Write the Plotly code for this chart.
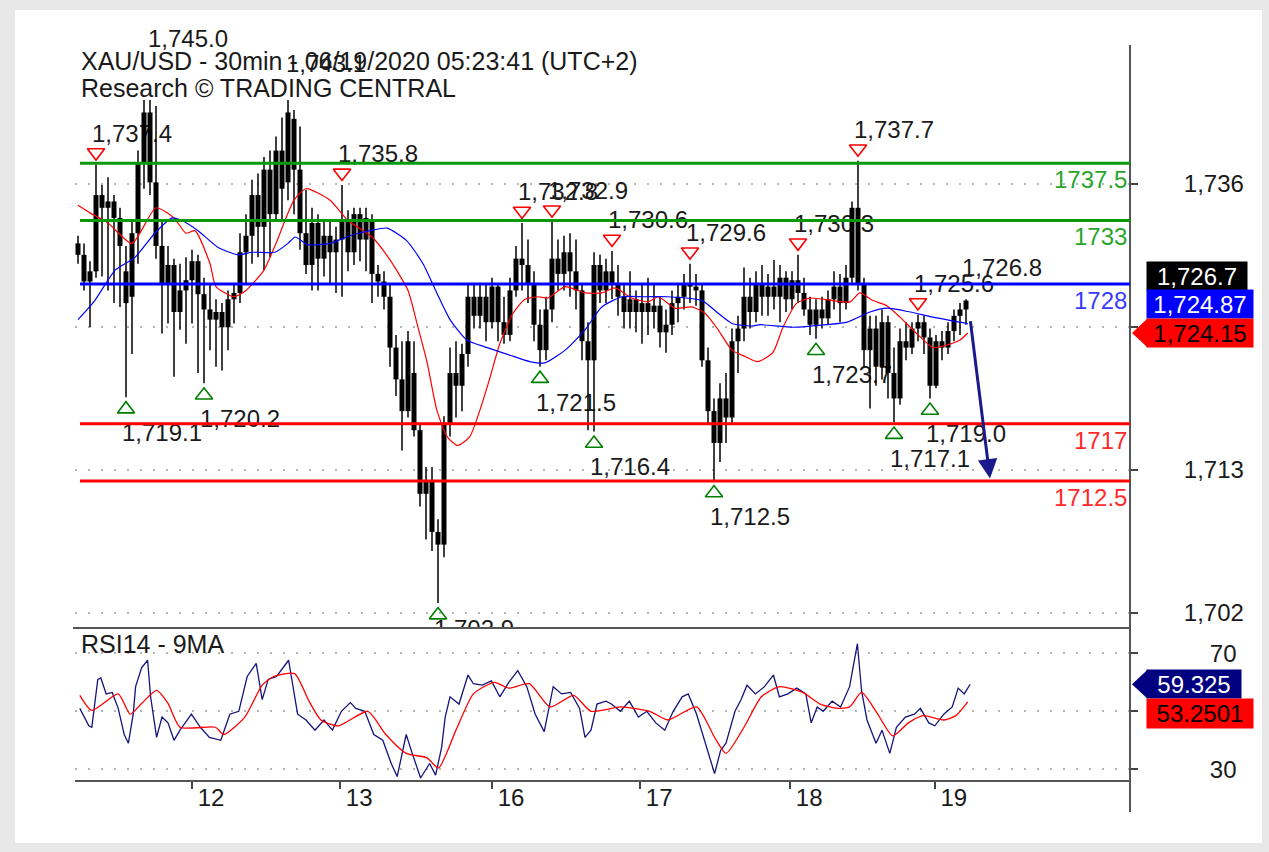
import plotly.graph_objects as go

# ------------------------------------------------------------------ data
day_labels = ["12", "13", "16", "17", "18", "19"]
day_start_bar = [19, 43.7, 69, 93.7, 118.7, 142.8]

bar_open = [1731.2, 1730.3, 1728.2, 1729.0, 1735.0, 1734.0, 1734.5, 1733.2, 1729.0, 1727.0,
            1732.0, 1737.5, 1741.5, 1736.0, 1731.0, 1728.0, 1729.5, 1725.8, 1727.5, 1728.3,
            1729.8, 1727.2, 1726.0, 1725.2, 1725.8, 1724.6, 1726.8, 1727.3, 1730.5, 1731.8,
            1735.0, 1732.5, 1737.0, 1733.5, 1738.5, 1736.0, 1741.0, 1737.0, 1732.0, 1729.5,
            1732.8, 1730.0, 1731.8, 1730.5, 1731.5, 1733.0, 1730.5, 1733.5, 1731.5, 1733.0,
            1728.8, 1728.2, 1727.0, 1723.0, 1720.5, 1718.0, 1721.0, 1716.5, 1711.5, 1712.5,
            1708.5, 1707.5, 1717.0, 1721.0, 1720.0, 1722.5, 1727.0, 1725.5, 1727.0, 1725.0,
            1727.8, 1725.0, 1724.0, 1727.5, 1730.0, 1729.5, 1728.0, 1724.8, 1722.8, 1726.0,
            1730.0, 1728.8, 1730.5, 1729.0, 1727.5, 1723.5, 1722.0, 1729.5, 1727.5, 1729.0,
            1728.0, 1727.0, 1725.8, 1726.8, 1725.8, 1726.5, 1725.8, 1726.3, 1724.2, 1724.8,
            1726.5, 1727.0, 1728.0, 1727.8, 1727.5, 1722.0, 1718.0, 1715.5, 1719.0, 1717.5,
            1723.5, 1724.5, 1727.0, 1725.8, 1728.0, 1727.0, 1727.8, 1727.0, 1728.5, 1726.8,
            1728.3, 1727.3, 1726.0, 1724.8, 1726.0, 1725.3, 1726.8, 1727.8, 1726.5, 1728.5,
            1734.0, 1728.0, 1722.8, 1724.5, 1721.5, 1725.0, 1721.0, 1719.0, 1723.5, 1723.0,
            1724.5, 1725.0, 1723.8, 1720.0, 1723.5, 1723.0, 1724.3, 1725.5, 1726.0]
bar_high = [1731.8, 1731.2, 1729.8, 1737.4, 1735.8, 1736.4, 1735.0, 1734.0, 1731.0, 1733.0,
            1738.5, 1743.5, 1745.0, 1742.0, 1733.0, 1731.0, 1730.0, 1729.6, 1730.1, 1730.7,
            1730.3, 1728.5, 1728.0, 1726.8, 1726.5, 1727.5, 1728.0, 1732.0, 1733.5, 1736.2,
            1736.7, 1738.0, 1738.5, 1739.6, 1741.1, 1743.1, 1741.7, 1740.4, 1735.4, 1734.0,
            1733.5, 1733.0, 1733.0, 1732.5, 1735.8, 1733.8, 1734.0, 1734.0, 1734.0, 1733.5,
            1729.5, 1729.0, 1728.0, 1724.0, 1723.5, 1724.3, 1723.5, 1717.0, 1713.6, 1713.6,
            1709.5, 1717.6, 1723.0, 1723.5, 1723.3, 1728.0, 1728.0, 1728.0, 1728.0, 1728.5,
            1728.0, 1727.0, 1728.5, 1731.0, 1732.8, 1731.5, 1729.0, 1726.0, 1727.0, 1732.9,
            1731.5, 1731.8, 1732.0, 1731.5, 1728.0, 1725.0, 1730.5, 1730.3, 1730.0, 1730.6,
            1729.5, 1728.0, 1729.0, 1727.5, 1728.0, 1728.5, 1728.0, 1727.0, 1726.0, 1727.5,
            1728.0, 1728.8, 1729.6, 1728.8, 1728.0, 1723.0, 1719.0, 1720.2, 1721.0, 1724.5,
            1725.5, 1729.3, 1728.5, 1729.0, 1729.5, 1728.8, 1729.9, 1729.5, 1729.0, 1729.0,
            1730.3, 1728.5, 1727.0, 1726.8, 1727.0, 1727.5, 1729.0, 1728.8, 1729.5, 1734.5,
            1737.7, 1728.5, 1725.5, 1725.5, 1726.0, 1725.5, 1723.0, 1724.5, 1725.0, 1725.0,
            1725.6, 1725.5, 1724.5, 1724.0, 1724.3, 1725.0, 1726.0, 1726.5, 1726.8]
bar_low = [1729.6, 1727.5, 1724.6, 1728.5, 1728.6, 1727.5, 1726.5, 1726.2, 1719.1, 1722.5,
           1729.6, 1735.5, 1735.0, 1730.0, 1724.1, 1724.9, 1720.7, 1724.4, 1723.3, 1724.9,
           1721.0, 1720.2, 1722.8, 1721.5, 1721.2, 1722.8, 1724.9, 1726.5, 1728.0, 1729.6,
           1730.1, 1729.1, 1730.1, 1733.0, 1733.0, 1734.6, 1733.5, 1730.7, 1728.8, 1727.5,
           1727.5, 1728.6, 1728.0, 1727.3, 1727.0, 1729.0, 1729.5, 1729.8, 1729.0, 1726.5,
           1727.0, 1726.0, 1721.5, 1719.2, 1714.9, 1717.5, 1716.0, 1710.5, 1707.9, 1707.0,
           1702.9, 1706.5, 1716.0, 1717.5, 1718.0, 1721.5, 1724.5, 1724.5, 1723.5, 1724.5,
           1723.5, 1723.3, 1723.5, 1727.0, 1727.5, 1726.5, 1723.5, 1721.5, 1722.0, 1725.0,
           1727.5, 1727.5, 1727.0, 1726.0, 1722.0, 1716.5, 1716.4, 1726.5, 1726.5, 1726.8,
           1725.5, 1724.5, 1724.5, 1724.2, 1723.3, 1724.0, 1724.5, 1723.0, 1722.6, 1724.0,
           1725.0, 1726.0, 1726.5, 1726.3, 1721.5, 1717.0, 1712.5, 1714.0, 1715.5, 1717.0,
           1721.0, 1723.5, 1724.5, 1725.0, 1725.5, 1725.5, 1726.0, 1725.0, 1725.8, 1726.0,
           1726.5, 1725.5, 1724.0, 1723.7, 1724.5, 1724.8, 1726.0, 1725.0, 1726.0, 1728.0,
           1727.5, 1721.5, 1718.2, 1720.0, 1720.5, 1719.0, 1717.1, 1718.5, 1722.0, 1722.5,
           1723.5, 1722.5, 1719.0, 1719.8, 1722.0, 1722.5, 1723.5, 1724.0, 1724.8]
bar_close = [1730.3, 1728.2, 1729.0, 1735.0, 1734.0, 1734.5, 1733.2, 1731.0, 1726.5, 1732.0,
             1737.5, 1741.5, 1736.0, 1731.0, 1728.0, 1729.5, 1725.8, 1727.5, 1728.3, 1729.8,
             1727.2, 1726.0, 1725.2, 1725.8, 1724.6, 1726.8, 1727.3, 1730.5, 1731.8, 1735.0,
             1732.5, 1737.0, 1733.5, 1738.5, 1735.5, 1741.5, 1737.0, 1732.0, 1729.5, 1732.8,
             1730.0, 1731.8, 1730.5, 1731.5, 1733.0, 1730.5, 1733.5, 1731.5, 1733.2, 1728.8,
             1728.2, 1727.0, 1723.0, 1720.5, 1718.0, 1723.5, 1716.5, 1711.5, 1712.5, 1708.5,
             1707.5, 1717.0, 1721.0, 1720.0, 1722.5, 1727.0, 1725.5, 1727.0, 1725.0, 1727.8,
             1725.0, 1724.0, 1727.5, 1730.0, 1729.5, 1728.0, 1724.8, 1722.8, 1726.0, 1730.0,
             1728.8, 1730.5, 1729.0, 1727.5, 1723.5, 1722.0, 1729.5, 1727.5, 1729.0, 1728.0,
             1727.0, 1725.8, 1726.8, 1725.8, 1726.5, 1725.8, 1726.3, 1724.2, 1724.8, 1726.5,
             1727.0, 1728.0, 1727.8, 1727.5, 1722.0, 1718.0, 1715.5, 1719.0, 1717.5, 1723.5,
             1724.5, 1727.0, 1725.8, 1728.0, 1727.0, 1727.8, 1727.0, 1728.5, 1726.8, 1728.3,
             1727.3, 1726.0, 1724.8, 1726.0, 1725.3, 1726.8, 1727.8, 1726.5, 1728.5, 1734.0,
             1728.0, 1722.8, 1724.5, 1721.5, 1725.0, 1721.0, 1719.0, 1723.5, 1723.0, 1724.5,
             1725.0, 1723.8, 1720.0, 1723.5, 1723.0, 1724.3, 1725.5, 1726.0, 1726.7]

ma_red_bar = [0, 2, 5, 9, 13, 16, 18, 19.5, 22, 23, 26, 28, 31, 33, 36, 38, 42, 45, 49, 52,
              55, 56.5, 58.2, 59.8, 61.5, 63.3, 65.3, 67, 68.7, 70.3, 72.5, 74.5, 76.7, 78.3,
              81.2, 84.5, 87.3, 89.5, 92.3, 95, 96.7, 99.5, 102.3, 104.5, 106.7, 109, 111.2,
              113.3, 115.8, 117.5, 119.8, 122, 125.8, 128.7, 130.3, 132.5, 134.8, 137, 139.8,
              142.5, 144.8, 147, 148.3]
ma_red_val = [1734.2, 1733.6, 1732.8, 1731.2, 1734.0, 1733.2, 1732.0, 1732.2, 1729.6, 1727.8,
              1727.0, 1727.5, 1729.1, 1731.2, 1734.6, 1735.5, 1734.6, 1733.0, 1731.7, 1729.9,
              1727.5, 1724.9, 1721.8, 1718.1, 1716.0, 1715.3, 1716.0, 1718.1, 1720.7, 1723.3,
              1725.7, 1726.8, 1727.0, 1726.9, 1727.8, 1727.3, 1727.3, 1727.7, 1726.9, 1726.6,
              1727.0, 1726.1, 1726.2, 1725.7, 1724.4, 1722.8, 1722.3, 1721.9, 1722.6, 1724.6,
              1726.5, 1726.9, 1726.7, 1726.6, 1727.3, 1726.7, 1726.3, 1725.4, 1724.1, 1723.0,
              1723.2, 1723.6, 1724.15]
ma_blue_bar = [0, 2.8, 6.2, 9.5, 12.8, 15.7, 17.3, 20, 23.3, 26.7, 29, 32.8, 35, 36.2, 38.3,
               42, 45.3, 48.7, 51.5, 54.8, 57.5, 59.8, 62, 64.8, 68.2, 72, 75.3, 77.8, 81.2,
               84.5, 87.3, 90.7, 94.5, 98.3, 104, 106.7, 109, 112.3, 113.7, 119.2, 124.8,
               128.2, 132, 134.8, 138.7, 142.5, 147, 148.3]
ma_blue_val = [1725.2, 1726.7, 1729.1, 1730.1, 1732.0, 1733.2, 1733.0, 1732.2, 1730.9, 1730.3,
               1730.5, 1730.5, 1731.2, 1731.7, 1731.1, 1731.2, 1731.8, 1732.2, 1732.4, 1731.4,
               1729.6, 1727.3, 1725.2, 1723.6, 1723.0, 1722.4, 1721.9, 1721.8, 1722.8, 1724.4,
               1726.2, 1727.0, 1727.0, 1727.0, 1726.7, 1725.7, 1724.9, 1724.7, 1724.8, 1724.6,
               1724.8, 1725.0, 1725.8, 1726.1, 1725.8, 1725.4, 1725.0, 1724.87]

rsi_bar = [0.3, 1.8, 2.3, 3.3, 3.8, 4.7, 5.7, 6.7, 7.7, 8.4, 9.2, 9.6, 10.6, 11.6, 12.1, 13.1,
           14.0, 15.0, 16.0, 17.0, 18.9, 20.4, 21.9, 23.8, 25.3, 26.8, 28.2, 29.7, 30.7, 31.7,
           33.1, 35.1, 36.6, 38.0, 39.5, 41.0, 42.4, 43.9, 45.4, 46.3, 47.8, 49.3, 50.8, 52.2,
           53.2, 54.7, 55.7, 57.1, 58.6, 59.6, 60.6, 61.2, 62.0, 63.5, 65.0, 65.9, 67.4, 68.9,
           70.3, 71.8, 73.3, 74.8, 76.2, 77.7, 79.2, 80.6, 82.1, 83.6, 84.5, 85.5, 86.5, 88.0,
           88.9, 90.4, 91.9, 93.4, 94.8, 96.3, 97.8, 99.2, 100.7, 101.7, 103.1, 104.6, 106.1,
           107.1, 108.0, 109.5, 110.5, 111.5, 112.9, 114.4, 115.9, 116.9, 118.3, 119.8, 121.3,
           122.2, 123.2, 124.2, 125.7, 127.1, 128.6, 129.9, 130.6, 131.5, 133.0, 134.0, 135.3,
           136.4, 137.9, 139.4, 140.4, 141.8, 142.8, 144.3, 145.7, 146.7, 147.7, 148.7]
rsi_val = [51, 45, 44.5, 61, 61.5, 56, 56.5, 51, 42, 39, 49, 58.5, 65, 67.6, 55, 41, 48, 46,
           40, 43.5, 49, 44.5, 41, 40, 49, 50, 62, 66.5, 54, 61, 62, 67.6, 49, 47, 43.5, 47,
           43.5, 50, 53, 51, 50, 42, 40, 32, 27.5, 42, 35.5, 27, 32, 28, 37.5, 48, 55, 52.5,
           62.5, 59.5, 59, 60.5, 55, 60, 64, 58.5, 49, 43, 58.5, 56, 56.5, 51, 41, 43.5, 52.5,
           53.5, 52.5, 50, 53.5, 48, 50, 46, 43.5, 50, 55, 56, 49, 39, 28.5, 36.5, 39, 50, 54,
           59, 56, 58.5, 62.5, 55, 56, 58, 56, 46, 51.5, 50, 53.5, 51.5, 58.5, 73.3, 57, 47,
           39, 43.5, 35.5, 44.5, 48, 49, 51, 46, 45, 49, 51.5, 58, 56, 59.325]
rsi_ma_bar = [0.3, 2.3, 6.7, 8.7, 10.6, 13.1, 15.0, 17.0, 22.9, 24.3, 27.8, 30.7, 32.6, 36.1,
              38.5, 40.5, 43.4, 48.3, 51.3, 54.7, 58.1, 60.1, 63.0, 65.9, 69.4, 71.8, 75.2,
              78.7, 82.6, 85.5, 90.4, 95.3, 98.3, 103.1, 106.1, 108.0, 111.0, 113.9, 116.9,
              120.8, 123.7, 126.6, 128.6, 130.6, 133.0, 135.8, 138.4, 140.8, 144.3, 146.3, 148.3]
rsi_ma_val = [55.5, 50.3, 56, 49, 52.7, 57.2, 52.7, 44.5, 44.5, 42, 48, 59, 62, 63, 53.5, 47,
              45, 50, 42, 35.5, 34, 30.5, 43.5, 56, 60, 58, 59.5, 51.5, 55.5, 50, 51.5, 50, 47,
              51.5, 41, 35.5, 44.5, 55, 58.5, 56.5, 52.5, 51, 51.5, 56.5, 50, 41.5, 46, 48.5,
              47, 48.5, 53.2501]

swing_high_bars = [3, 12, 35, 44, 74, 79, 89, 102, 120, 130, 140]
swing_high_label_only = [148]
swing_low_bars = [8, 21, 60, 77, 86, 106, 123, 136, 142]

level_values = [1737.5, 1733, 1728, 1717, 1712.5]
level_texts = ["1737.5", "1733", "1728", "1717", "1712.5"]
level_line_colors = ["#0a990a", "#0a990a", "#0000ff", "#ff0000", "#ff0000"]
level_text_colors = ["#2aa52a", "#2aa52a", "#3a3aff", "#ff2a2a", "#ff2a2a"]

price_ticks = [1735.9, 1724.65, 1713.4, 1702.15]
price_tick_text = ["1,736", "", "1,713", "1,702"]
rsi_ticks = [30, 50, 70]
rsi_tick_text = ["30", "", "70"]

forecast_from_bar, forecast_from_price = 148.7, 1725.2
forecast_to_bar, forecast_to_price = 152, 1712.7

last_close_text = "1,726.7"
ma_blue_last_text = "1,724.87"
ma_red_last, ma_red_last_text = 1724.15, "1,724.15"
rsi_last, rsi_last_text = 59.325, "59.325"
rsi_ma_last_text = "53.2501"

title_line1 = "XAU/USD - 30min - 06/19/2020 05:23:41 (UTC+2)"
title_line2 = "Research © TRADING CENTRAL"
rsi_title = "RSI14 - 9MA"

# ------------------------------------------------------------------ geometry
W, H = 1269, 852
ML, MR, MT, MB = 75, 139, 45, 72
PW, PH = W - ML - MR, H - MT - MB


def px_x(px):
    return (px - ML) / PW


def px_y(py):
    return (H - MB - py) / PH


X_RANGE = [-0.5, 175.333]
Y_RANGE = [1700.94, 1742.48]
R_RANGE = [26.31, 78.72]
main_dom = [px_y(628), px_y(100)]
rsi_dom = [0, px_y(628)]
ppu = (628 - 100) / (Y_RANGE[1] - Y_RANGE[0])
rppu = (780 - 628) / (R_RANGE[1] - R_RANGE[0])
ppb = PW / (X_RANGE[1] - X_RANGE[0])


def price_to_paper(p):
    return main_dom[0] + (p - Y_RANGE[0]) / (Y_RANGE[1] - Y_RANGE[0]) * (main_dom[1] - main_dom[0])


FONT = "Liberation Sans, Arial, sans-serif"
TXT = "#1a1a1a"
LABEL_FONT = dict(size=24, color=TXT, family=FONT)

# ------------------------------------------------------------------ traces
fig = go.Figure()

hl_bars = swing_high_bars + swing_high_label_only
in_bars = [b for b in hl_bars if bar_high[b] + 29 / ppu <= Y_RANGE[1]]
out_bars = [b for b in hl_bars if b not in in_bars]
fig.add_trace(go.Scatter(
    x=[b - 4 / ppb for b in in_bars],
    y=[bar_high[b] + 29 / ppu for b in in_bars],
    text=[f"{bar_high[b]:,.1f}" for b in in_bars],
    mode="text", textposition="middle right", cliponaxis=True,
    textfont=LABEL_FONT, hoverinfo="skip"))
fig.add_trace(go.Scatter(
    x=[b - 4 / ppb for b in swing_low_bars],
    y=[max(bar_low[b] - 38 / ppu, Y_RANGE[0] - 3 / ppu) for b in swing_low_bars],
    text=[f"{bar_low[b]:,.1f}" for b in swing_low_bars],
    mode="text", textposition="middle right", cliponaxis=True,
    textfont=LABEL_FONT, hoverinfo="skip"))

wx, wy, bx, by = [], [], [], []
for i in range(len(bar_close)):
    wx += [i, i, None]
    wy += [bar_low[i], bar_high[i], None]
    bx += [i, i, None]
    by += [bar_open[i], bar_close[i], None]
fig.add_trace(go.Scatter(x=wx, y=wy, mode="lines", line=dict(color="black", width=1.5),
                         hoverinfo="skip"))
fig.add_trace(go.Scatter(x=bx, y=by, mode="lines", line=dict(color="black", width=5),
                         hoverinfo="skip"))

fig.add_trace(go.Scatter(x=ma_red_bar, y=ma_red_val, mode="lines",
                         line=dict(color="#ff0000", width=1.2, shape="spline", smoothing=0.6)))
fig.add_trace(go.Scatter(x=ma_blue_bar, y=ma_blue_val, mode="lines",
                         line=dict(color="#0000ff", width=1.2, shape="spline", smoothing=0.6)))

fig.add_trace(go.Scatter(
    x=swing_high_bars, y=[bar_high[b] + 12 / ppu for b in swing_high_bars], mode="markers",
    marker=dict(symbol="triangle-down-open", size=15, color="#ff0000", line=dict(width=1.6)),
    cliponaxis=True))
fig.add_trace(go.Scatter(
    x=swing_low_bars, y=[bar_low[b] - 12 / ppu for b in swing_low_bars], mode="markers",
    marker=dict(symbol="triangle-up-open", size=15, color="#008000", line=dict(width=1.6)),
    cliponaxis=True))

fig.add_trace(go.Scatter(x=rsi_bar, y=rsi_val, mode="lines", xaxis="x2", yaxis="y2",
                         line=dict(color="#14147a", width=1.3)))
fig.add_trace(go.Scatter(x=rsi_ma_bar, y=rsi_ma_val, mode="lines", xaxis="x2", yaxis="y2",
                         line=dict(color="#ff0000", width=1.3, shape="spline", smoothing=0.6)))

# ------------------------------------------------------------------ shapes
shapes = [
    dict(type="rect", xref="paper", yref="paper", x0=px_x(15), x1=px_x(1262),
         y0=px_y(843), y1=px_y(10), fillcolor="white", line_width=0, layer="below"),
    dict(type="line", xref="paper", yref="paper", x0=1, x1=1, y0=px_y(812), y1=px_y(45),
         line=dict(color="#555555", width=2)),
    dict(type="line", xref="paper", yref="paper", x0=px_x(73), x1=1, y0=px_y(628),
         y1=px_y(628), line=dict(color="#555555", width=2)),
]
for v, c in zip(level_values, level_line_colors):
    shapes.append(dict(type="line", xref="paper", yref="y", x0=px_x(80), x1=1, y0=v, y1=v,
                       line=dict(color=c, width=3), layer="above"))

d = 14 / ppu
shapes.append(dict(type="path", xref="paper", yref="y", fillcolor="#ff0000", line_width=0,
                   path=f"M {px_x(1132)},{ma_red_last} L {px_x(1147)},{ma_red_last + d} "
                        f"L {px_x(1147)},{ma_red_last - d} Z"))
dr = 14 / rppu
shapes.append(dict(type="path", xref="paper", yref="y2", fillcolor="#000080", line_width=0,
                   path=f"M {px_x(1132)},{rsi_last} L {px_x(1147)},{rsi_last + dr} "
                        f"L {px_x(1147)},{rsi_last - dr} Z"))

# ------------------------------------------------------------------ annotations
ann = [
    dict(text=title_line1, xref="paper", yref="paper", x=px_x(79), y=px_y(61),
         xanchor="left", yanchor="middle", showarrow=False,
         font=dict(size=25, color=TXT, family=FONT)),
    dict(text=title_line2, xref="paper", yref="paper", x=px_x(79), y=px_y(88),
         xanchor="left", yanchor="middle", showarrow=False,
         font=dict(size=25, color=TXT, family=FONT)),
    dict(text=rsi_title, xref="paper", yref="paper", x=px_x(79), y=px_y(644),
         xanchor="left", yanchor="middle", showarrow=False,
         font=dict(size=25, color=TXT, family=FONT)),
]
for b in out_bars:
    ann.append(dict(text=f"{bar_high[b]:,.1f}", xref="x", yref="paper", x=b - 4 / ppb,
                    y=price_to_paper(bar_high[b]), yshift=29, xanchor="left",
                    yanchor="middle", showarrow=False, font=LABEL_FONT))
for v, t, c in zip(level_values, level_texts, level_text_colors):
    ann.append(dict(text=t, xref="paper", yref="y", x=px_x(1129), y=v, xanchor="right",
                    yanchor="top", yshift=-1, showarrow=False,
                    font=dict(size=24, color=c, family=FONT)))

box_x = px_x(1146)
ann += [
    dict(text=last_close_text, xref="paper", yref="y", x=box_x, y=ma_red_last, yshift=57,
         xanchor="left", yanchor="middle", showarrow=False, bgcolor="black", width=100,
         height=28, borderpad=0, align="center", font=dict(size=24, color="white", family=FONT)),
    dict(text=ma_blue_last_text, xref="paper", yref="y", x=box_x, y=ma_red_last, yshift=28.5,
         xanchor="left", yanchor="middle", showarrow=False, bgcolor="#0000ff", width=106,
         height=28, borderpad=0, align="center", font=dict(size=24, color="white", family=FONT)),
    dict(text=ma_red_last_text, xref="paper", yref="y", x=box_x, y=ma_red_last,
         xanchor="left", yanchor="middle", showarrow=False, bgcolor="#ff0000", width=106,
         height=28, borderpad=0, align="center", font=dict(size=24, color="black", family=FONT)),
    dict(text=rsi_last_text, xref="paper", yref="y2", x=box_x, y=rsi_last,
         xanchor="left", yanchor="middle", showarrow=False, bgcolor="#000080", width=94,
         height=28, borderpad=0, align="center", font=dict(size=24, color="white", family=FONT)),
    dict(text=rsi_ma_last_text, xref="paper", yref="y2", x=box_x, y=rsi_last, yshift=-29,
         xanchor="left", yanchor="middle", showarrow=False, bgcolor="#ff0000", width=106,
         height=29, borderpad=0, align="center", font=dict(size=24, color="black", family=FONT)),
    dict(text="", x=forecast_to_bar, y=forecast_to_price, ax=forecast_from_bar,
         ay=forecast_from_price, xref="x", yref="y", axref="x", ayref="y", showarrow=True,
         arrowhead=2, arrowsize=1.3, arrowwidth=3, arrowcolor="#1a1a8c"),
]

# ------------------------------------------------------------------ layout
fig.update_layout(
    template="none", width=W, height=H, showlegend=False, hovermode=False,
    margin=dict(l=ML, r=MR, t=MT, b=MB, autoexpand=False),
    paper_bgcolor="#e8e8e8", plot_bgcolor="white",
    font=dict(family=FONT, size=24, color=TXT),
    shapes=shapes, annotations=ann,
    xaxis=dict(domain=[0, 1], range=X_RANGE, anchor="y", showticklabels=False,
               showgrid=False, zeroline=False, ticks="", showline=False, automargin=False),
    xaxis2=dict(domain=[0, 1], range=X_RANGE, anchor="y2", matches="x",
                tickvals=day_start_bar, ticktext=day_labels, ticks="outside", ticklen=7,
                tickwidth=1.5, tickcolor="#444444", showline=True, linecolor="#555555",
                linewidth=2, showgrid=False, zeroline=False, ticklabelshift=19,
                ticklabelstandoff=-12,
                tickfont=dict(size=24, color=TXT, family=FONT), automargin=False),
    yaxis=dict(domain=main_dom, range=Y_RANGE, anchor="x", side="right",
               tickvals=price_ticks, ticktext=price_tick_text, ticks="outside", ticklen=7,
               tickwidth=1.5, tickcolor="#444444", showline=False, zeroline=False,
               showgrid=True, gridcolor="#b4b4b4", gridwidth=1.5, griddash="2px,11px",
               ticklabelstandoff=41, tickfont=dict(size=24, color=TXT, family=FONT),
               automargin=False),
    yaxis2=dict(domain=rsi_dom, range=R_RANGE, anchor="x2", side="right",
                tickvals=rsi_ticks, ticktext=rsi_tick_text, ticks="outside", ticklen=7,
                tickwidth=1.5, tickcolor="#444444", showline=False, zeroline=False,
                showgrid=True, gridcolor="#b4b4b4", gridwidth=1.5, griddash="2px,11px",
                ticklabelstandoff=67, tickfont=dict(size=24, color=TXT, family=FONT),
                automargin=False),
)

fig.write_html("out.html",
               config={"displayModeBar": False},
               post_script="document.body.style.margin='0';"
                           "document.body.style.background='#e8e8e8';")
